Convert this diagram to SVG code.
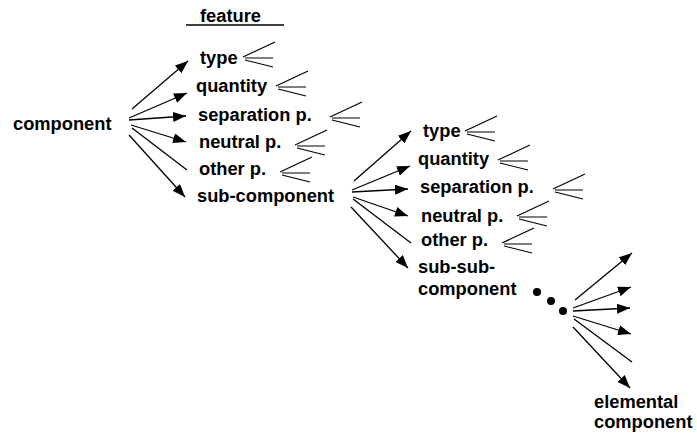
<svg xmlns="http://www.w3.org/2000/svg" xmlns:xlink="http://www.w3.org/1999/xlink" width="697" height="434" viewBox="0 0 697 434">
<style>
text{font-family:"Liberation Sans",Arial,sans-serif;font-weight:bold;font-size:18.3px;fill:#000}
.c line{stroke:#000;stroke-width:1.3}
.a{marker-end:url(#ah)}
.fan{fill:none;stroke:#000;stroke-width:1.2}
</style>
<defs>
<marker id="ah" markerUnits="userSpaceOnUse" markerWidth="14" markerHeight="11" refX="13" refY="5" orient="auto">
<path d="M0,0 L13,5 L0,10 z" fill="#000"/>
</marker>
<path id="fan" class="fan" d="M0,0 L32,-15 M2,1 L30,1 M2,3 L30,10"/>
</defs>
<rect width="697" height="434" fill="#fff"/>
<g id="title">
<text x="200" y="22">feature</text>
<line x1="186" y1="25" x2="284" y2="25" stroke="#000" stroke-width="1.3"/>
</g>
<g id="component"><text x="13" y="130">component</text></g>
<g id="type1"><text x="200" y="64">type</text><use xlink:href="#fan" x="243" y="57"/></g>
<g id="quantity1"><text x="196" y="92">quantity</text><use xlink:href="#fan" x="276" y="86"/></g>
<g id="separation1"><text x="198" y="121">separation p.</text><use xlink:href="#fan" x="330" y="117"/></g>
<g id="neutral1"><text x="199" y="148">neutral p.</text><use xlink:href="#fan" x="295" y="145"/></g>
<g id="other1"><text x="199" y="175">other p.</text><use xlink:href="#fan" x="280" y="172"/></g>
<g id="subcomponent"><text x="197" y="202">sub-component</text></g>
<g id="type2"><text x="423" y="137">type</text><use xlink:href="#fan" x="465" y="131"/></g>
<g id="quantity2"><text x="418" y="165">quantity</text><use xlink:href="#fan" x="498" y="160"/></g>
<g id="separation2"><text x="420" y="193">separation p.</text><use xlink:href="#fan" x="553" y="189"/></g>
<g id="neutral2"><text x="421" y="222">neutral p.</text><use xlink:href="#fan" x="517" y="216"/></g>
<g id="other2"><text x="421" y="246">other p.</text><use xlink:href="#fan" x="502" y="243"/></g>
<g id="subsubcomponent"><text x="418" y="273">sub-sub-</text><text x="418" y="295">component</text></g>
<g id="dots" fill="#000"><circle cx="537" cy="292" r="4"/><circle cx="551" cy="301" r="4"/><circle cx="563" cy="311" r="4"/></g>
<g id="elemental"><text x="594" y="408">elemental</text><text x="594" y="428">component</text></g>
<g id="connectors" class="c">
<line class="a" x1="132" y1="109" x2="188" y2="61"/>
<line class="a" x1="129" y1="118" x2="187" y2="93"/>
<line class="a" x1="129" y1="120" x2="186" y2="116"/>
<line class="a" x1="131" y1="125" x2="186" y2="142"/>
<line x1="132" y1="128" x2="187" y2="170"/>
<line class="a" x1="129" y1="135" x2="185" y2="197"/>
<line class="a" x1="354" y1="181" x2="411" y2="131"/>
<line class="a" x1="352" y1="190" x2="410" y2="166"/>
<line class="a" x1="352" y1="192" x2="408" y2="189"/>
<line class="a" x1="353" y1="197" x2="408" y2="216"/>
<line x1="353" y1="199" x2="411" y2="243"/>
<line class="a" x1="351" y1="207" x2="408" y2="268"/>
<line class="a" x1="575" y1="300" x2="632" y2="253"/>
<line class="a" x1="573" y1="308" x2="631" y2="287"/>
<line class="a" x1="573" y1="311" x2="630" y2="308"/>
<line class="a" x1="573" y1="316" x2="631" y2="334"/>
<line x1="574" y1="319" x2="632" y2="362"/>
<line class="a" x1="573" y1="327" x2="630" y2="388"/>
</g>
</svg>
